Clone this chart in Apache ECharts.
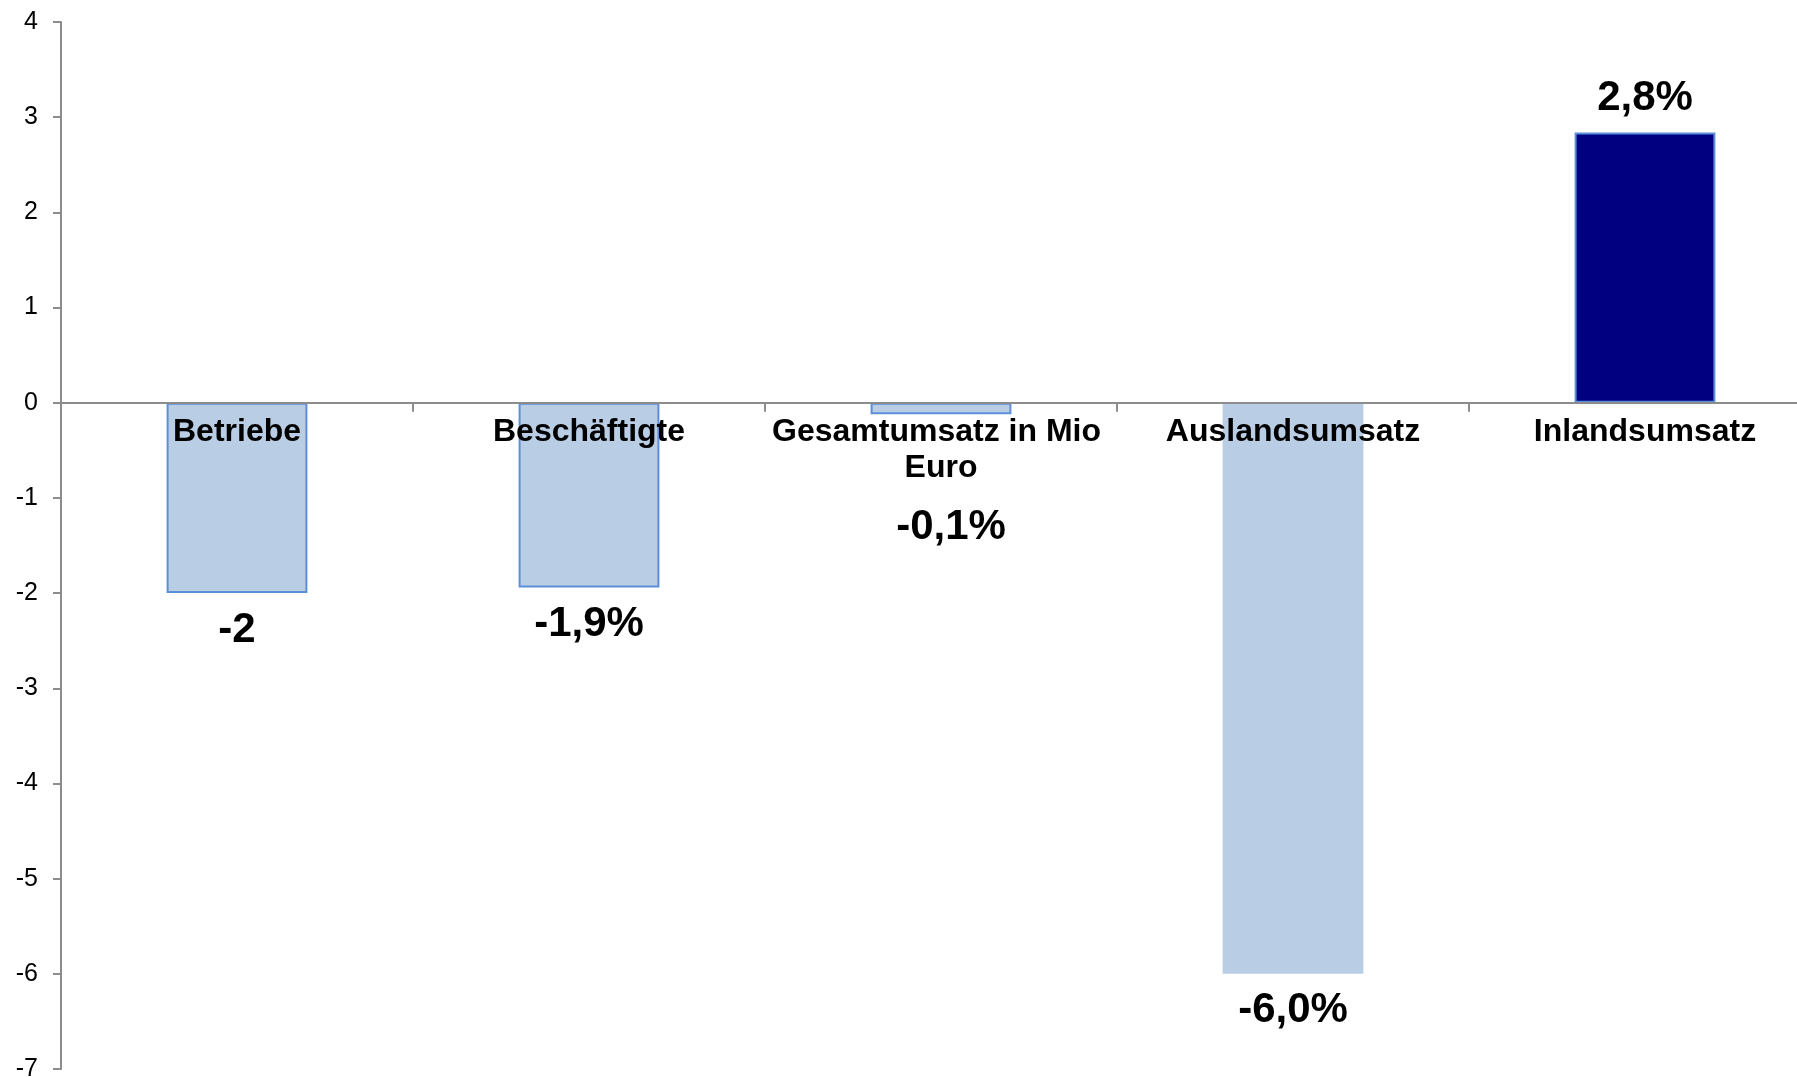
<!DOCTYPE html>
<html>
<head>
<meta charset="utf-8">
<script src="https://cdn.jsdelivr.net/npm/echarts@6/dist/echarts.min.js"></script>
<style>
html,body{margin:0;padding:0;background:#fff;}
#c{width:1797px;height:1077px;}
</style>
</head>
<body>
<div id="c"></div>
<script>
var categories = ['Betriebe', 'Beschäftigte', 'Gesamtumsatz in Mio Euro', 'Auslandsumsatz', 'Inlandsumsatz'];
var values = [-2.0, -1.94, -0.12, -6.0, 2.84];
var valueLabels = ['-2', '-1,9%', '-0,1%', '-6,0%', '2,8%'];
var yMin = -7, yMax = 4, yStep = 1;

var FONT = '"Liberation Sans", Arial, sans-serif';
var light = '#B9CDE5', lightBorder = '#5B8FD9', dark = '#000080';

var styles = [
  {fill: light, border: lightBorder, bw: 2},
  {fill: light, border: lightBorder, bw: 2},
  {fill: light, border: lightBorder, bw: 2},
  {fill: light, border: light, bw: 0},
  {fill: dark, border: lightBorder, bw: 2}
];
var labelExtra = [
  {pos: 'bottom', dist: 16, off: [0, 0]},
  {pos: 'bottom', dist: 16, off: [0, 0]},
  {pos: 'bottom', dist: 16, off: [10, 76]},
  {pos: 'bottom', dist: 16, off: [0, 0]},
  {pos: 'top', dist: 13, off: [0, 0]}
];

var data = values.map(function (v, i) {
  return {
    value: v,
    itemStyle: {color: styles[i].fill, borderColor: styles[i].border, borderWidth: styles[i].bw},
    label: {
      show: true,
      position: labelExtra[i].pos,
      distance: labelExtra[i].dist,
      offset: labelExtra[i].off,
      formatter: valueLabels[i]
    }
  };
});

var chart = echarts.init(document.getElementById('c'), null, {renderer: 'canvas'});
var option = {
  animation: false,
  backgroundColor: '#fff',
  grid: {left: 61, right: -24, top: 22, bottom: 8, containLabel: false, outerBoundsMode: 'none'},
  xAxis: {
    type: 'category',
    data: categories,
    position: 'bottom',
    offset: 0,
    z: 10,
    axisLine: {onZero: false, lineStyle: {color: '#8C8C8C', width: 2}},
    axisTick: {show: true, length: 9, lineStyle: {color: '#8C8C8C', width: 2}},
    axisLabel: {
      interval: 0,
      margin: 11,
      color: '#000',
      fontFamily: FONT,
      fontWeight: 'bold',
      fontSize: 32,
      lineHeight: 36,
      width: 345,
      overflow: 'break'
    },
    splitLine: {show: false}
  },
  yAxis: {
    type: 'value',
    min: yMin,
    max: yMax,
    interval: yStep,
    axisLine: {show: true, lineStyle: {color: '#8C8C8C', width: 2}},
    axisTick: {show: true, length: 8, lineStyle: {color: '#8C8C8C', width: 2}},
    axisLabel: {margin: 23, color: '#000', fontFamily: FONT, fontSize: 25},
    splitLine: {show: false}
  },
  series: [{
    type: 'bar',
    data: data,
    barWidth: '40%',
    z: 2,
    label: {
      color: '#000',
      fontFamily: FONT,
      fontWeight: 'bold',
      fontSize: 42
    }
  }]
};
chart.setOption(option);
// move the category axis (line, ticks, labels) up to the zero line
var yZero = chart.convertToPixel({yAxisIndex: 0}, 0);
var yBottom = chart.convertToPixel({yAxisIndex: 0}, yMin);
chart.setOption({xAxis: {offset: -(yBottom - yZero)}});
</script>
</body>
</html>
